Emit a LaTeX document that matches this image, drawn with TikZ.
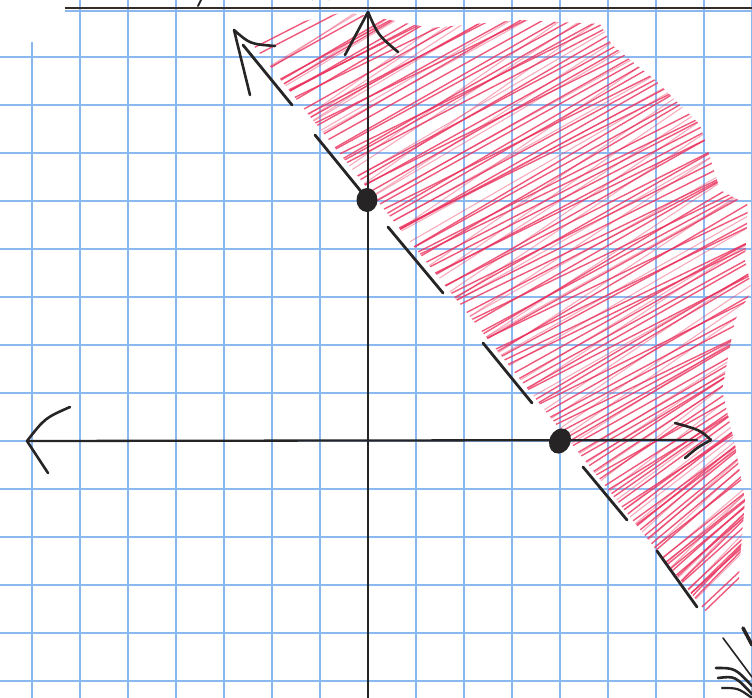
\documentclass[tikz,border=0pt]{standalone}
\usetikzlibrary{shapes.geometric}
\definecolor{gridblue}{RGB}{140,184,240}
\definecolor{ink}{RGB}{38,36,36}
\definecolor{hatch}{RGB}{234,48,92}
\begin{document}
\begin{tikzpicture}[x=1pt,y=-1pt,
  gridline/.style={gridblue,line width=1.8pt},
  axis/.style={ink,line width=2.3pt,line cap=round},
  bound/.style={ink,line width=2.8pt,line cap=round},
  tip/.style={ink,line width=2.6pt,line cap=round,line join=round},
  hatchline/.style={hatch,line width=1.4pt,opacity=0.8,line cap=round}]
\useasboundingbox[fill=white] (0,0) rectangle (752,698);
% grid paper
\foreach \k in {1,...,15} \draw[gridline] ({32+48*\k},0) -- ({32+48*\k},698);
\draw[gridline] (32,42) -- (32,698);
\foreach \k in {1,...,14} \draw[gridline] (0,{9+48*\k}) -- (752,{9+48*\k});
\draw[gridline] (65,11) -- (752,11);
% paper edge line and cut-off marks
\draw[ink!90!brown,line width=2.4pt] (65,8) -- (752,8);
\draw[ink,line width=2pt,line cap=round] (201,0) -- (198,6);
\draw[ink!60,line width=2pt] (312,0) arc[start angle=180,end angle=360,x radius=9pt,y radius=-4pt];
% shaded region (red scribble)
\pgfmathsetseed{11}
\begin{scope}
\clip (253,45) -- (300,22) -- (345,12) -- (380,18) -- (430,28) -- (520,20) -- (600,24)
  -- (612,45) -- (655,80) -- (700,125) -- (720,190) -- (748,205) -- (745,260)
  -- (752,290) -- (735,320) -- (722,390) -- (735,445) -- (745,500) -- (740,560)
  -- (738,600) -- (712,618) -- (702,607) -- cycle;
\foreach \i in {0,...,123} {
  \pgfmathsetmacro\yc{-150+7*\i+2*rand}
  \pgfmathsetmacro\s{0.54+0.06*rand+max(0,\yc-420)*0.0016}
  \draw[hatchline] (200,{\yc+400*\s}) -- (760,{\yc-160*\s});
}
\foreach \i in {0,...,60} {
  \pgfmathsetmacro\yc{-146+14*\i+3*rand}
  \pgfmathsetmacro\s{0.62+0.08*rand+max(0,\yc-420)*0.0016}
  \draw[hatchline,opacity=0.4,line width=1.1pt] (200,{\yc+400*\s}) -- (760,{\yc-160*\s});
}
\end{scope}
% axes
\coordinate (ytop) at (368,12);
\coordinate (ybot) at (368,698);
\coordinate (xleft) at (27,441);
\coordinate (xright) at (711,440);
\draw[axis] (ytop) -- (ybot);
\draw[axis] (xleft) -- (697,440);
% arrowheads of axes
\draw[tip] (345,55) -- (ytop);
\draw[tip] (ytop) .. controls (378,35) .. (398,52);
\draw[tip] (70,407) .. controls (45,418) .. (xleft) -- (48,473);
\draw[tip] (675,423) .. controls (700,430) .. (xright) .. controls (698,447) .. (685,458);
% dashed boundary line 5x+4y=20
\draw[bound] (243,45) -- (292,105);
\draw[bound] (315,135) -- (368,200);
\draw[bound] (388,227) -- (443,293);
\draw[bound] (483,343) -- (532,403);
\draw[bound] (583,467) -- (627,520);
\draw[bound] (657,551) -- (697,607);
% arrowhead at the upper end of the boundary line
\coordinate (btip) at (234,30);
\draw[tip] (250,95) -- (btip) .. controls (250,44) .. (275,46);
% intercept points
\node[ellipse,fill=ink,minimum width=21pt,minimum height=24pt,inner sep=0pt] (yint) at (367,200) {};
\node[ellipse,fill=ink,minimum width=21pt,minimum height=26pt,inner sep=0pt,rotate=-25] (xint) at (560,441) {};
% cut-off pen marks at the lower right corner
\draw[ink,line width=1.6pt,line cap=round] (723,638) -- (752,677);
\draw[ink,line width=3.5pt,line cap=round] (743,628) -- (752,645);
\draw[ink,line width=2.6pt,line cap=round] (716,668) .. controls (735,668) .. (752,686);
\draw[ink,line width=2.6pt,line cap=round] (718,678) .. controls (735,676) .. (752,694);
\draw[ink,line width=2.2pt,line cap=round] (722,688) .. controls (738,688) .. (752,698);
\end{tikzpicture}
\end{document}
